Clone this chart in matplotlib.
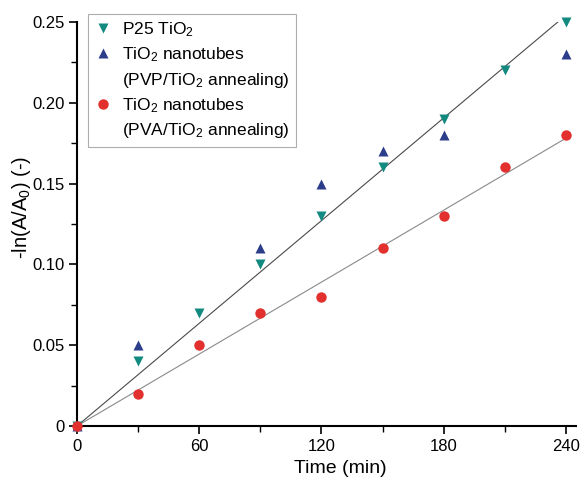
import numpy as np
import matplotlib.pyplot as plt
from matplotlib.lines import Line2D
from matplotlib.ticker import MultipleLocator

plt.rcParams["font.family"] = ["Liberation Sans", "DejaVu Sans"]
plt.rcParams["mathtext.default"] = "regular"

# Data
time_p25 = [0, 30, 60, 90, 120, 150, 180, 210, 240]
p25 = [0, 0.04, 0.07, 0.10, 0.13, 0.16, 0.19, 0.22, 0.25]

time_pvp = [0, 30, 90, 120, 150, 180, 240]
pvp = [0, 0.05, 0.11, 0.15, 0.17, 0.18, 0.23]

time_pva = [0, 30, 60, 90, 120, 150, 180, 210, 240]
pva = [0, 0.02, 0.05, 0.07, 0.08, 0.11, 0.13, 0.16, 0.18]

TEAL = "#138a80"
NAVY = "#2c3d8a"
RED = "#e2302e"


def origin_slope(x, y):
    x = np.asarray(x, float)
    y = np.asarray(y, float)
    return (x * y).sum() / (x * x).sum()


fig = plt.figure(figsize=(5.81, 4.88), dpi=100)
ax = fig.add_axes([0.1325, 0.127, 0.8589, 0.828])

# fitted lines through origin
xfit = np.array([0, 240])
ax.plot(xfit, origin_slope(time_p25, p25) * xfit, color="#4a4a4a", lw=0.8, zorder=1)
ax.plot(xfit, origin_slope(time_pva, pva) * xfit, color="#8a8a8a", lw=0.8, zorder=1)

mk = dict(ms=7.5, mec="none", clip_on=False, zorder=3)
ax.plot(time_pvp, pvp, "^", color=NAVY, **mk)
ax.plot(time_p25, p25, "v", color=TEAL, **mk)
ax.plot(time_pva, pva, "o", color=RED, **mk)

ax.set_xlim(0, 245)
ax.set_ylim(0, 0.25)
ax.xaxis.set_major_locator(MultipleLocator(60))
ax.xaxis.set_minor_locator(MultipleLocator(30))
ax.yaxis.set_minor_locator(MultipleLocator(0.025))
ax.set_yticks([0, 0.05, 0.10, 0.15, 0.20, 0.25])
ax.set_yticklabels(["0", "0.05", "0.10", "0.15", "0.20", "0.25"])

for side in ("top", "right"):
    ax.spines[side].set_visible(False)
for side in ("left", "bottom"):
    ax.spines[side].set_linewidth(1.5)
ax.tick_params(which="major", direction="out", length=6, width=1.2, labelsize=12, pad=3)
ax.tick_params(which="minor", direction="out", length=4, width=1.0)

ax.set_xlabel("Time (min)", fontsize=14)
ax.set_ylabel("-ln(A/A$_0$) (-)", fontsize=14.5)
ax.xaxis.set_label_coords(0.527, -0.083)
ax.yaxis.set_label_coords(-0.088, 0.54)

blank = Line2D([], [], linestyle="none", marker=None)
handles = [
    Line2D([], [], linestyle="none", marker="v", color=TEAL, ms=7.5, mec="none"),
    Line2D([], [], linestyle="none", marker="^", color=NAVY, ms=7.5, mec="none"),
    blank,
    Line2D([], [], linestyle="none", marker="o", color=RED, ms=7.5, mec="none"),
    blank,
]
labels = [
    "P25 TiO$_2$",
    "TiO$_2$ nanotubes",
    "(PVP/TiO$_2$ annealing)",
    "TiO$_2$ nanotubes",
    "(PVA/TiO$_2$ annealing)",
]
leg = ax.legend(handles, labels, loc="upper left", bbox_to_anchor=(0.022, 1.02),
                borderaxespad=0, fontsize=12.5, frameon=True, fancybox=False,
                handlelength=1.0, handletextpad=0.6, labelspacing=0.38,
                borderpad=0.35)
leg.get_frame().set_edgecolor("#9a9a9a")
leg.get_frame().set_linewidth(0.8)

fig.savefig("out.png", dpi=100)
